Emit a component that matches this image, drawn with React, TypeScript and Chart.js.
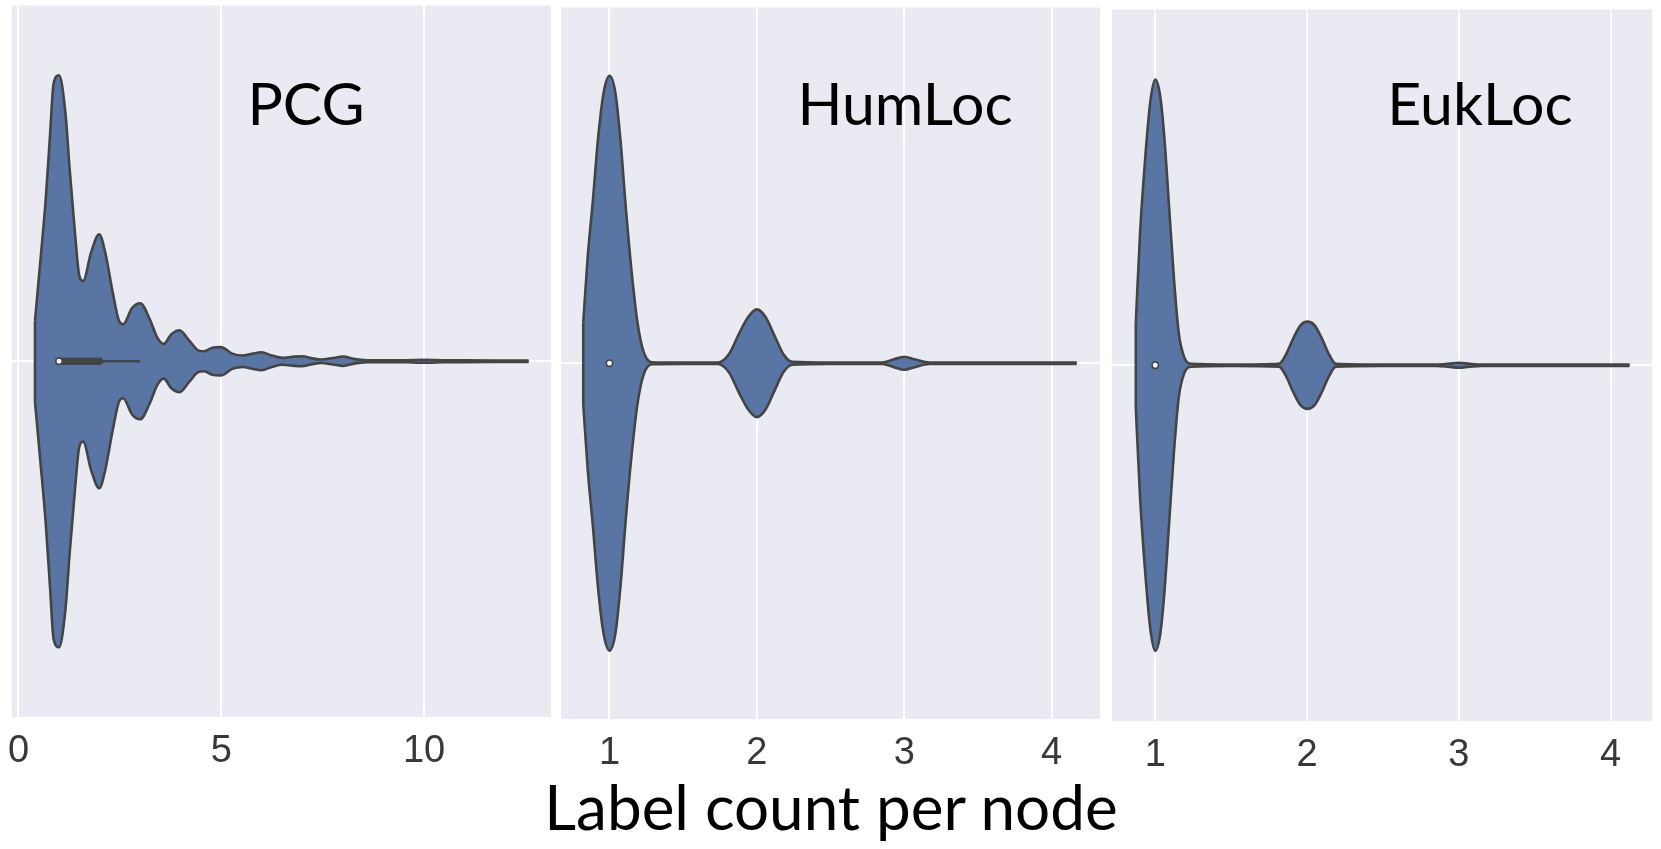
import React, { useEffect, useRef } from "react";
import { Chart, registerables } from "chart.js";

Chart.register(...registerables);

// ---------------- data ----------------
const PANEL_TITLES = ["PCG", "HumLoc", "EukLoc"];
const AXIS_TITLE = "Label count per node";

const PCG_TICKS = [0, 5, 10];
const HUMLOC_TICKS = [1, 2, 3, 4];
const EUKLOC_TICKS = [1, 2, 3, 4];

const PCG_X_RANGE = [-0.16, 13.13];
const HUMLOC_X_RANGE = [0.671, 4.328];
const EUKLOC_X_RANGE = [0.715, 4.273];

// violin outlines: label count (x) and half-width of the violin (category units, max 0.4)
const PCG_X = [0.407, 0.54, 0.67, 0.777, 0.865, 1.0, 1.157, 1.26, 1.393, 1.5, 1.596, 1.79, 1.99, 2.14, 2.32, 2.48, 2.58, 2.8, 3.0, 3.24, 3.42, 3.58, 3.77, 3.97, 4.21, 4.43, 4.58, 4.78, 4.99, 5.27, 5.53, 5.76, 5.99, 6.25, 6.5, 6.75, 6.99, 7.25, 7.47, 7.75, 8.0, 8.3, 8.6, 9.0, 9.5, 10.0, 10.5, 11.0, 12.0, 12.58];
const PCG_HALF_WIDTH = [0.057, 0.141, 0.226, 0.317, 0.39, 0.402, 0.349, 0.271, 0.18, 0.12, 0.113, 0.153, 0.1786, 0.1525, 0.0977, 0.0565, 0.052, 0.0748, 0.0816, 0.0587, 0.0336, 0.0244, 0.038, 0.0436, 0.029, 0.0154, 0.014, 0.019, 0.0199, 0.0107, 0.008, 0.0105, 0.0126, 0.008, 0.0048, 0.0062, 0.0071, 0.004, 0.0025, 0.0045, 0.0066, 0.003, 0.0015, 0.0012, 0.0013, 0.0022, 0.0014, 0.0012, 0.0011, 0.001];

const HUMLOC_X = [0.822, 0.851, 0.887, 0.923, 0.96, 1.0, 1.04, 1.076, 1.11, 1.149, 1.19, 1.231, 1.287, 1.5, 1.735, 1.81, 1.88, 1.94, 2.0, 2.06, 2.12, 2.18, 2.24, 2.5, 2.85, 2.93, 3.0, 3.07, 3.17, 3.6, 4.17];
const HUMLOC_HALF_WIDTH = [0.057, 0.146, 0.228, 0.317, 0.38, 0.404, 0.38, 0.31, 0.2206, 0.131, 0.057, 0.0163, 0.0014, 0.0009, 0.001, 0.0126, 0.042, 0.0646, 0.0757, 0.0646, 0.0385, 0.0126, 0.002, 0.0009, 0.001, 0.0055, 0.0092, 0.0055, 0.001, 0.0009, 0.0009];

const EUKLOC_X = [0.872, 0.9, 0.931, 0.966, 1.0, 1.032, 1.06, 1.091, 1.124, 1.155, 1.19, 1.237, 1.5, 1.815, 1.862, 1.909, 1.957, 2.003, 2.05, 2.098, 2.145, 2.19, 2.5, 2.85, 2.93, 3.0, 3.07, 3.15, 3.6, 4.125];
const EUKLOC_HALF_WIDTH = [0.06, 0.186, 0.283, 0.368, 0.4015, 0.379, 0.32, 0.223, 0.1193, 0.045, 0.0117, 0.002, 0.0009, 0.002, 0.0154, 0.0376, 0.0561, 0.0613, 0.0561, 0.0376, 0.0154, 0.002, 0.0009, 0.0009, 0.002, 0.0035, 0.002, 0.0009, 0.0009, 0.0009];

// inner box plots: [q1, q3], whisker [q3, upper], median
const PCG_BOX = [1, 2];
const PCG_WHISKER = [2, 3];
const MEDIANS = [1, 1, 1];

// ---------------- styling / layout ----------------
const BG = "#EAEAF2";
const FILL = "#5975A4";
const OUTLINE = "#444444";
const LINE_W = 2.6;
const MARGIN = 30; // extra canvas space left/right for tick labels
const AXIS_H = 58; // x axis height (46px label line + 12px padding)

const PANEL_BOXES = [
  { left: 12, top: 0, width: 539, height: 729 },
  { left: 561, top: 2, width: 539, height: 729 },
  { left: 1112, top: 4, width: 540, height: 729 },
];

const PANELS = [
  { xs: PCG_X, hw: PCG_HALF_WIDTH, ticks: PCG_TICKS, range: PCG_X_RANGE, box: PCG_BOX, whisker: PCG_WHISKER, median: MEDIANS[0] },
  { xs: HUMLOC_X, hw: HUMLOC_HALF_WIDTH, ticks: HUMLOC_TICKS, range: HUMLOC_X_RANGE, box: null, whisker: null, median: MEDIANS[1] },
  { xs: EUKLOC_X, hw: EUKLOC_HALF_WIDTH, ticks: EUKLOC_TICKS, range: EUKLOC_X_RANGE, box: null, whisker: null, median: MEDIANS[2] },
];

const bgPlugin = {
  id: "panelBg",
  beforeDraw(chart: any) {
    const { ctx, chartArea } = chart;
    ctx.save();
    ctx.fillStyle = BG;
    ctx.fillRect(chartArea.left, chartArea.top, chartArea.right - chartArea.left, chartArea.bottom - chartArea.top);
    ctx.restore();
  },
};

function ViolinPanel({ idx }: { idx: number }) {
  const ref = useRef<HTMLCanvasElement>(null);
  const box = PANEL_BOXES[idx];
  const cw = box.width + 2 * MARGIN;
  const ch = box.height + AXIS_H;

  useEffect(() => {
    const p = PANELS[idx];
    const line = (data: any[], extra: any = {}) => ({
      data,
      borderColor: OUTLINE,
      borderWidth: LINE_W,
      pointRadius: 0,
      fill: false,
      tension: 0,
      ...extra,
    });
    const datasets: any[] = [
      line(p.xs.map((x, i) => ({ x, y: p.hw[i] })), {
        fill: "+1",
        backgroundColor: FILL,
        cubicInterpolationMode: "monotone",
        order: 10,
      }),
      line(p.xs.map((x, i) => ({ x, y: -p.hw[i] })), {
        cubicInterpolationMode: "monotone",
        order: 9,
      }),
      line([
        { x: p.xs[0], y: p.hw[0] },
        { x: p.xs[0], y: -p.hw[0] },
      ], { order: 8 }),
    ];
    if (p.box) {
      datasets.push(
        line([
          { x: p.box[0], y: 0 },
          { x: p.box[1], y: 0 },
        ], { borderWidth: 7.5, borderCapStyle: "round", order: 5 })
      );
    }
    if (p.whisker) {
      datasets.push(
        line([
          { x: p.whisker[0], y: 0 },
          { x: p.whisker[1], y: 0 },
        ], { order: 6 })
      );
    }
    datasets.push({
      data: [{ x: p.median, y: 0 }],
      showLine: false,
      pointRadius: 3.2,
      pointBackgroundColor: "#ffffff",
      pointBorderColor: OUTLINE,
      pointBorderWidth: 1.5,
      order: 1,
    });

    const chart = new Chart(ref.current as HTMLCanvasElement, {
      type: "line",
      data: { datasets },
      options: {
        responsive: false,
        animation: false,
        events: [],
        layout: { padding: { left: MARGIN, right: MARGIN, top: 0, bottom: 0 } },
        plugins: {
          legend: { display: false },
          tooltip: { enabled: false },
          filler: { drawTime: "beforeDatasetsDraw" },
        },
        scales: {
          x: {
            type: "linear",
            min: p.range[0],
            max: p.range[1],
            afterBuildTicks: (axis: any) => {
              axis.ticks = p.ticks.map((v) => ({ value: v }));
            },
            grid: { color: "#ffffff", lineWidth: 2, drawTicks: false },
            border: { display: false },
            ticks: {
              color: "#383838",
              padding: 12,
              maxRotation: 0,
              autoSkip: false,
              font: { family: "Arial, 'Liberation Sans', sans-serif", size: 38, lineHeight: "46px" },
            },
          },
          y: {
            type: "linear",
            min: -0.5,
            max: 0.5,
            afterBuildTicks: (axis: any) => {
              axis.ticks = [{ value: 0 }];
            },
            grid: { color: "#ffffff", lineWidth: 2, drawTicks: false },
            border: { display: false },
            ticks: { display: false },
          },
        },
      } as any,
      plugins: [bgPlugin],
    });
    return () => chart.destroy();
  }, [idx]);

  return (
    <canvas
      ref={ref}
      width={cw}
      height={ch}
      style={{ position: "absolute", left: box.left - MARGIN, top: box.top, width: cw, height: ch }}
    />
  );
}

const LABEL_CENTERS = [306, 905, 1480];

export default function App() {
  return (
    <div
      style={{
        position: "absolute",
        left: 0,
        top: 0,
        width: 1661,
        height: 849,
        overflow: "hidden",
        background: "#ffffff",
      }}
    >
      {PANELS.map((_, i) => (
        <ViolinPanel key={i} idx={i} />
      ))}
      {PANEL_TITLES.map((t, i) => (
        <div
          key={t}
          style={{
            position: "absolute",
            left: LABEL_CENTERS[i] - 200,
            width: 400,
            top: 73,
            textAlign: "center",
            fontFamily: "Lato, 'Open Sans', sans-serif",
            fontSize: 59,
            lineHeight: "59px",
            color: "#000",
            whiteSpace: "nowrap",
          }}
        >
          {t}
        </div>
      ))}
      <div
        style={{
          position: "absolute",
          left: 831 - 500,
          width: 1000,
          top: 775,
          textAlign: "center",
          fontFamily: "Lato, 'Open Sans', sans-serif",
          fontSize: 62,
          lineHeight: "62px",
          color: "#000",
          whiteSpace: "nowrap",
        }}
      >
        {AXIS_TITLE}
      </div>
    </div>
  );
}
